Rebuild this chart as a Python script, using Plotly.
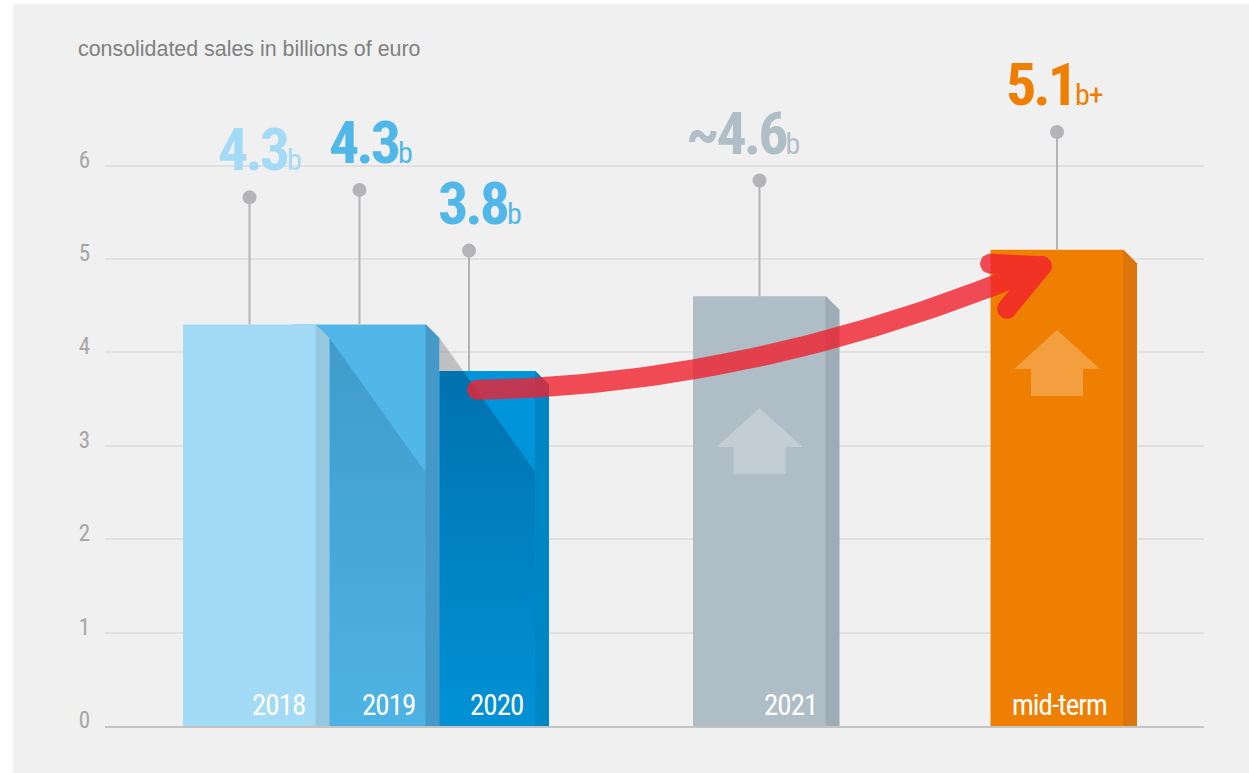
import plotly.graph_objects as go
import math

# Chart data
categories = ["2018", "2019", "2020", "2021", "mid-term"]
sales = [4.3, 4.3, 3.8, 4.6, 5.1]
label_prefix = ["", "", "", "~", ""]
label_suffix = ["b", "b", "b", "b", "b+"]
pin_heights = [5.66, 5.74, 5.09, 5.84, 6.36]
y_ticks = [0, 1, 2, 3, 4, 5, 6]
subtitle = "consolidated sales in billions of euro"

# Horizontal layout of the bars, in x-axis units
bar_centers = [249.5, 359.5, 469, 759.5, 1057]
bar_width = 133
side_depth = 13.5
label_shift = [10, 11, 10, -17, -3]
category_shift = [28.5, 28.5, 27, 30.5, 2]

# Colours
front_colors = ["#a3daf6", "#50b7e8", "#0095da", "#aebdc6", "#ef7f00"]
side_colors = ["#96c8e0", "#4499c8", "#0085c5", "#9dacb5", "#dc760c"]
label_colors = ["#a3daf6", "#50b7e8", "#50b7e8", "#b0bec8", "#ef7f00"]
PANEL = "#f0f0f0"
GRID = "#e0e0e0"
PIN = "#b4b4b6"
ARROW = "rgba(240,32,46,0.8)"

# Axis geometry
X_RANGE = [105, 1204]
PLOT_TOP, PLOT_BOTTOM = 0, 726
PX_PER_UNIT = 93.4
Y_TOP = (PLOT_BOTTOM - PLOT_TOP) / PX_PER_UNIT
WIDTH, HEIGHT = 1249, 773

SHADOW_SLOPE = 1.4

# Condensed display type
DISPLAY_FONT = "Roboto"
TIGHT = "font-stretch:75%;letter-spacing:-3px"
SNUG = "font-stretch:75%;letter-spacing:-1px"

fig = go.Figure()

# Front faces: later bars sit behind earlier ones
for i in range(len(categories) - 1, -1, -1):
    fig.add_trace(go.Bar(x=[bar_centers[i]], y=[sales[i]], width=[bar_width],
                         marker=dict(color=front_colors[i], line=dict(width=0)),
                         hoverinfo="skip", showlegend=False))


def polygon(xs, ys, color, gradient=None):
    """Filled closed outline on the chart axes."""
    kw = dict(fillgradient=gradient) if gradient else dict(fillcolor=color)
    fig.add_trace(go.Scatter(x=xs + xs[:1], y=ys + ys[:1], mode="lines", fill="toself",
                             line=dict(width=0), hoverinfo="skip", showlegend=False, **kw))


def cast_shadow(caster, receiver, top_alpha, bottom_alpha):
    """Diagonal shadow that one bar throws on the bar behind it."""
    x0 = bar_centers[caster] + bar_width / 2 + side_depth
    y0 = sales[caster] - side_depth / PX_PER_UNIT
    x1 = bar_centers[receiver] + bar_width / 2
    y1 = y0 - (x1 - x0) * SHADOW_SLOPE / PX_PER_UNIT
    top = sales[receiver]
    shade = dict(type="vertical", colorscale=[
        [0, f"rgba(0,45,85,{bottom_alpha})"], [1, f"rgba(0,45,85,{top_alpha})"]])
    if y0 > top:
        xc = x0 + (y0 - top) * PX_PER_UNIT / SHADOW_SLOPE
        polygon([x0, xc, x0], [y0, top, top], "rgba(120,120,120,0.4)")
        polygon([x0, xc, x1, x1, x0], [top, top, y1, 0, 0], None, shade)
    else:
        polygon([x0, x1, x1, x0], [y0, y1, 0, 0], None, shade)


cast_shadow(0, 1, 0.2, 0.03)
cast_shadow(1, 2, 0.34, 0.03)

# Side faces with the chamfered top corner
for i in range(len(categories)):
    right = bar_centers[i] + bar_width / 2
    polygon([right - 0.5, right, right + side_depth, right + side_depth, right - 0.5],
            [sales[i], sales[i], sales[i] - side_depth / PX_PER_UNIT, 0, 0], side_colors[i])

# Pale "up" badges on the two outlook bars
badge_tops = {3: 3.405, 4: 4.24}
for i, apex in badge_tops.items():
    c = bar_centers[i]
    drop = [0, 39 / PX_PER_UNIT, 39 / PX_PER_UNIT, 66 / PX_PER_UNIT]
    polygon([c, c + 43, c + 26, c + 26, c - 26, c - 26, c - 43],
            [apex, apex - drop[1], apex - drop[2], apex - drop[3],
             apex - drop[3], apex - drop[2], apex - drop[1]],
            "rgba(255,255,255,0.25)")

# Pins above each bar
for i in range(len(categories)):
    fig.add_trace(go.Scatter(x=[bar_centers[i]] * 2, y=[sales[i], pin_heights[i]], mode="lines",
                             line=dict(color=PIN, width=2), hoverinfo="skip", showlegend=False))
fig.add_trace(go.Scatter(x=bar_centers, y=pin_heights, mode="markers",
                         marker=dict(color=PIN, size=14, line=dict(width=0)),
                         hoverinfo="skip", showlegend=False))


# Growth arrow: one outline of round-capped strokes, so its transparency stays even
def stroke_outline(points, half_width):
    """Outline of a round-capped stroke along points given as (x, value)."""
    pts = [(x, v * PX_PER_UNIT) for x, v in points]
    left, right = [], []
    for k, (x, y) in enumerate(pts):
        a = pts[max(k - 1, 0)]
        b = pts[min(k + 1, len(pts) - 1)]
        ang = math.atan2(b[1] - a[1], b[0] - a[0])
        left.append((x - math.sin(ang) * half_width, y + math.cos(ang) * half_width))
        right.append((x + math.sin(ang) * half_width, y - math.cos(ang) * half_width))

    def cap(center, start):
        return [(center[0] + half_width * math.cos(start - math.pi * s / 12),
                 center[1] + half_width * math.sin(start - math.pi * s / 12))
                for s in range(1, 12)]
    a_end = math.atan2(pts[-1][1] - pts[-2][1], pts[-1][0] - pts[-2][0])
    a_start = math.atan2(pts[1][1] - pts[0][1], pts[1][0] - pts[0][0])
    outline = (left + cap(pts[-1], a_end + math.pi / 2) + right[::-1]
               + cap(pts[0], a_start - math.pi / 2))
    return [p[0] for p in outline], [p[1] / PX_PER_UNIT for p in outline]


arrow_curve = [(477, 3.60), (760, 3.65), (1042, 4.925)]
arrow_head_top = [(990, 4.95), (1042, 4.925)]
arrow_head_low = [(1042, 4.925), (1007, 4.465)]
N_SAMPLES = 60
shaft = []
for k in range(N_SAMPLES + 1):
    t = k / N_SAMPLES
    shaft.append(tuple((1 - t) ** 2 * arrow_curve[0][j] + 2 * t * (1 - t) * arrow_curve[1][j]
                       + t ** 2 * arrow_curve[2][j] for j in range(2)))
ax, ay = [], []
for stroke in (shaft, arrow_head_top, arrow_head_low):
    xs, ys = stroke_outline(stroke, 10)
    ax += xs + xs[:1] + [None]
    ay += ys + ys[:1] + [None]
fig.add_trace(go.Scatter(x=ax, y=ay, mode="lines", fill="toself", fillcolor=ARROW,
                         line=dict(width=0), connectgaps=False,
                         hoverinfo="skip", showlegend=False))

annotations = []
for i, name in enumerate(categories):
    annotations.append(dict(
        x=bar_centers[i], y=pin_heights[i], xref="x", yref="y",
        xanchor="center", yanchor="bottom", xshift=label_shift[i], yshift=10,
        showarrow=False,
        text=(f'<span style="{TIGHT}">{label_prefix[i]}{sales[i]:.1f}</span>'
              f'<span style="{SNUG};font-size:30px;font-weight:400">{label_suffix[i]}</span>'),
        font=dict(family=DISPLAY_FONT, size=60, color=label_colors[i], weight=700)))
    annotations.append(dict(
        x=bar_centers[i], y=0, xref="x", yref="y",
        xanchor="center", yanchor="middle", xshift=category_shift[i], yshift=21,
        showarrow=False, text=f'<span style="{SNUG}">{name}</span>',
        font=dict(family=DISPLAY_FONT, size=29, color="#ffffff", weight=400)))
annotations.append(dict(
    x=(76 - X_RANGE[0]) / (X_RANGE[1] - X_RANGE[0]), y=(PLOT_BOTTOM - 49) / (PLOT_BOTTOM - PLOT_TOP),
    xref="paper", yref="paper", xanchor="left", yanchor="middle", showarrow=False,
    text=subtitle, font=dict(family="Liberation Sans", size=21.4, color="#808080")))

span = X_RANGE[1] - X_RANGE[0]
fig.update_layout(
    width=WIDTH, height=HEIGHT, autosize=False,
    margin=dict(l=X_RANGE[0], r=WIDTH - X_RANGE[1], t=PLOT_TOP, b=HEIGHT - PLOT_BOTTOM, pad=0),
    paper_bgcolor="#ffffff", plot_bgcolor="rgba(0,0,0,0)",
    barmode="overlay", showlegend=False, annotations=annotations,
    shapes=[dict(type="rect", xref="paper", yref="paper", layer="below",
                 x0=(13 - X_RANGE[0]) / span, x1=(WIDTH - X_RANGE[0]) / span,
                 y0=(PLOT_BOTTOM - HEIGHT) / PLOT_BOTTOM, y1=(PLOT_BOTTOM - 4) / PLOT_BOTTOM,
                 fillcolor=PANEL, line=dict(width=0))],
    xaxis=dict(range=X_RANGE, showgrid=False, zeroline=False, showticklabels=False, ticks="",
               showline=True, linecolor="#c4c4c4", linewidth=2, layer="below traces"),
    yaxis=dict(range=[0, Y_TOP], tickvals=y_ticks,
               ticktext=[f'<span style="font-stretch:75%">{t}</span>' for t in y_ticks],
               showgrid=True, gridcolor=GRID, gridwidth=2,
               zeroline=False, showline=False, ticks="", ticklabelstandoff=14, ticklabelshift=-6,
               tickfont=dict(family=DISPLAY_FONT, size=23, color="#a6a6a6", weight=400),
               layer="below traces"),
)

fig.write_html("out.html", config={"displayModeBar": False})
